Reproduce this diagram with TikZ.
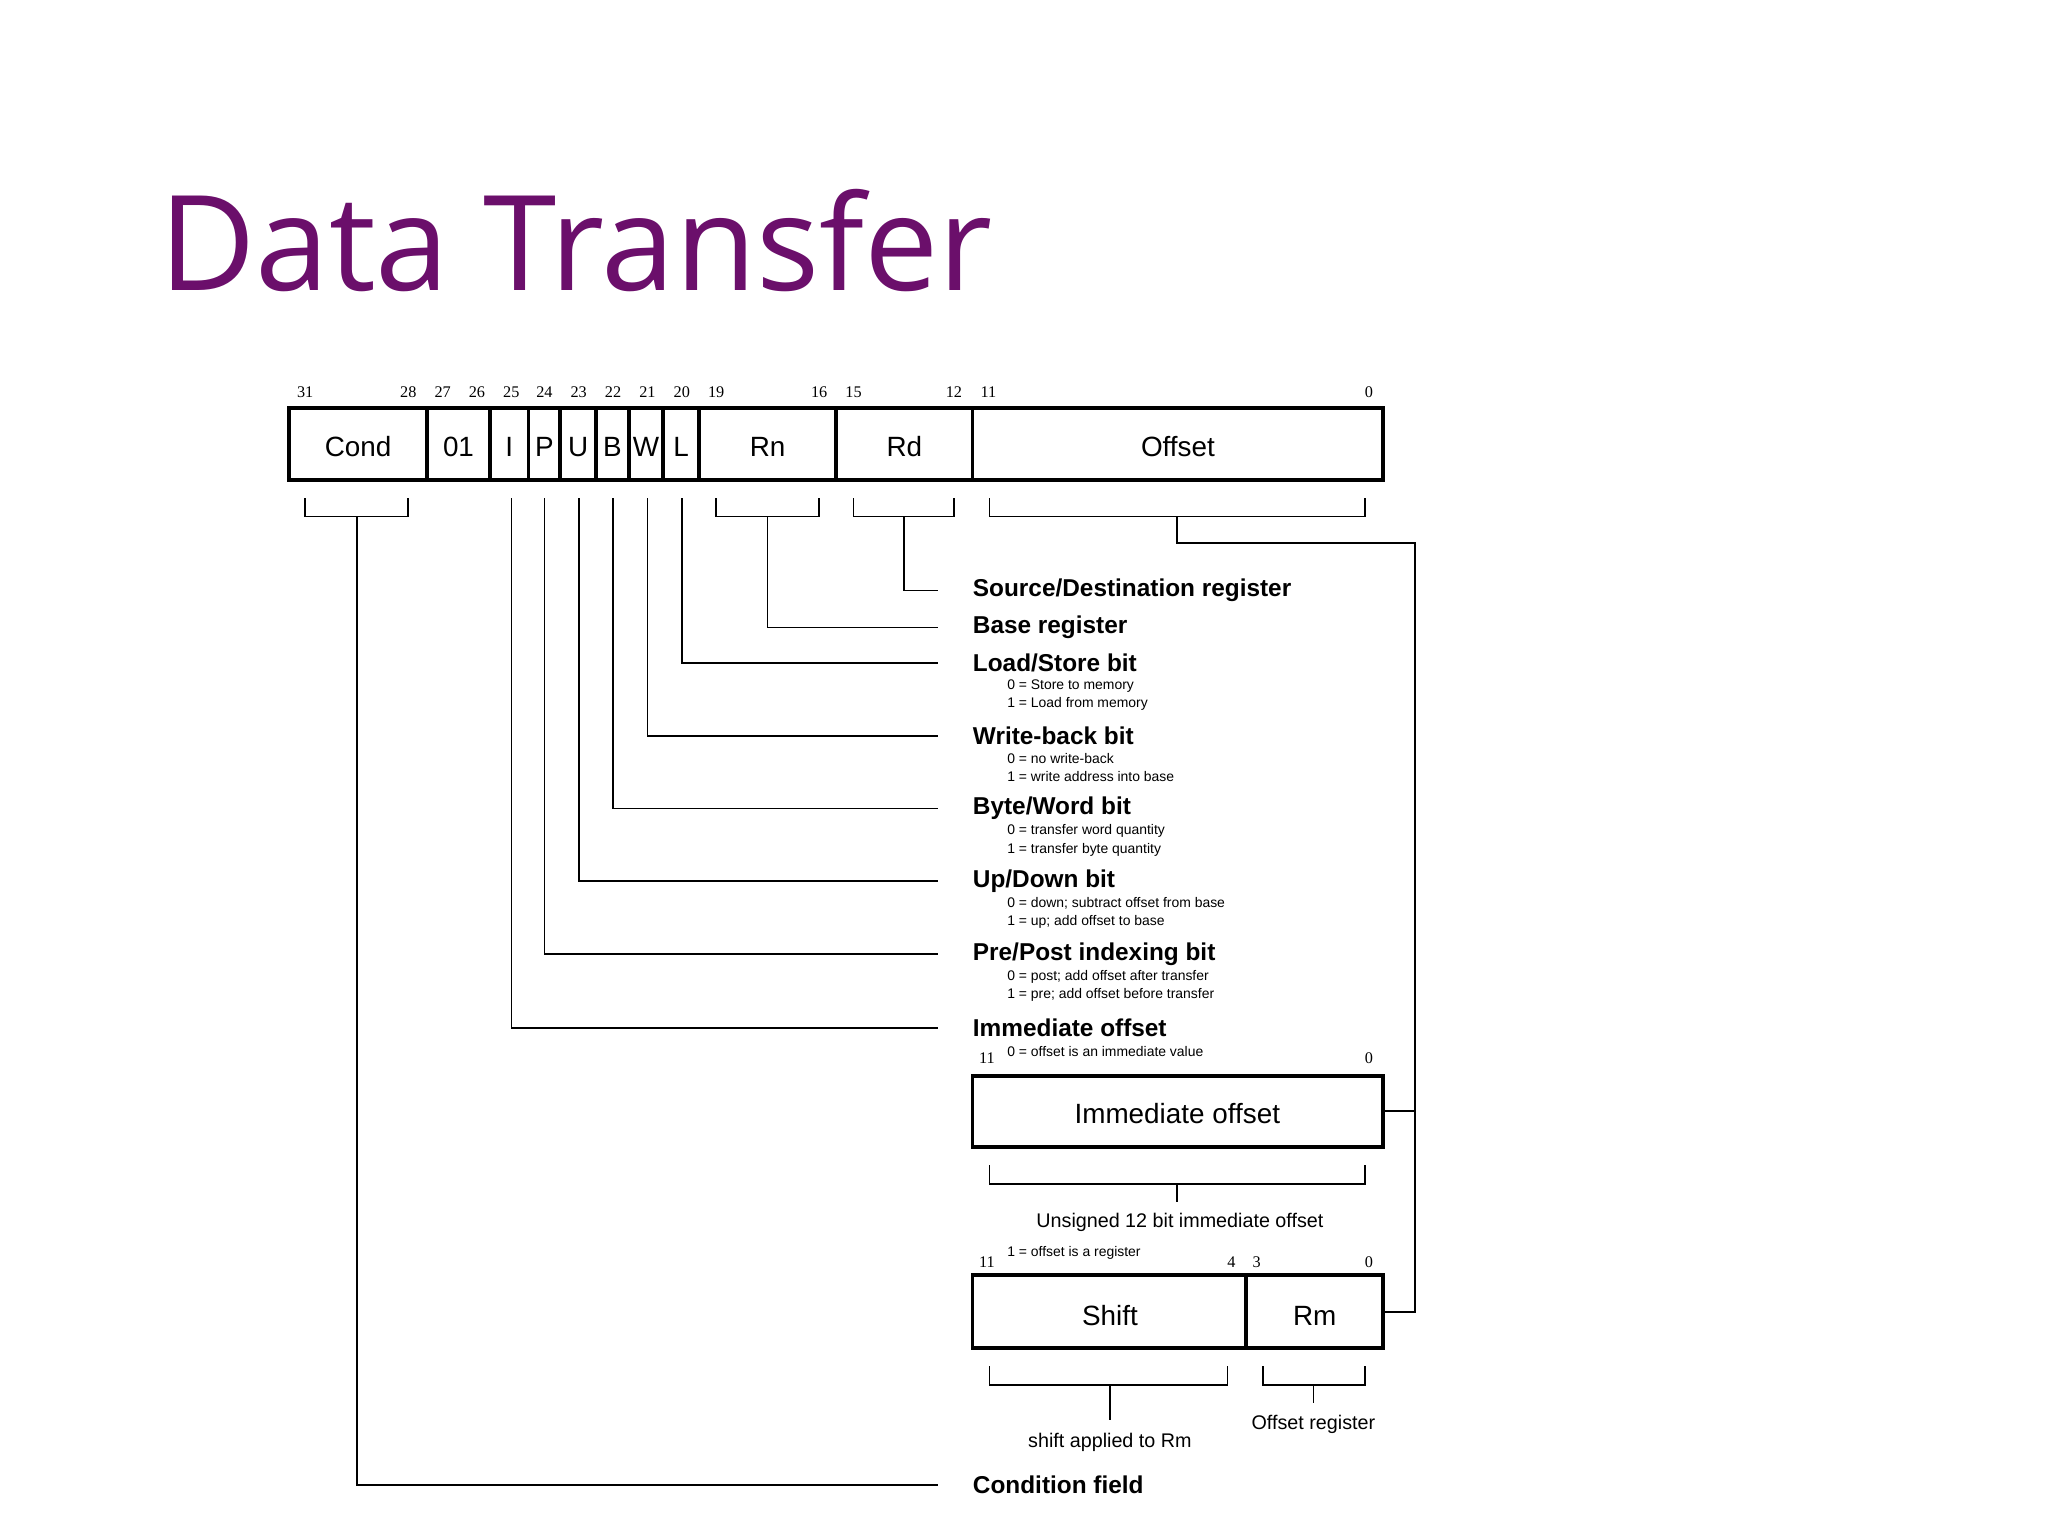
\documentclass[tikz,border=0pt]{standalone}
\usepackage{fontspec}
\setmainfont{Liberation Sans}
\newfontfamily\titlefont{Open Sans}
\newfontfamily\numfont{Liberation Serif}
\definecolor{ttl}{RGB}{107,15,107}
\begin{document}
\begin{tikzpicture}[x=0.02cm,y=-0.02cm,
  box/.style={draw,line width=1.7pt},
  thin/.style={line width=0.7pt},
  fld/.style={font=\fontsize{12}{14}\selectfont},
  bn/.style={font=\numfont\fontsize{7}{8}\selectfont,inner sep=0pt},
  lab/.style={anchor=west,inner sep=0pt,font=\bfseries\fontsize{10.5}{12}\selectfont},
  sub/.style={anchor=west,inner sep=0pt,font=\fontsize{6}{7}\selectfont},
  capt/.style={inner sep=0pt,font=\fontsize{8.5}{10}\selectfont}]
\useasboundingbox (0,0) rectangle (1550,1162);
\node[anchor=base west,inner sep=0pt,text=ttl,font=\titlefont\fontsize{57}{60}\selectfont] (title) at (120,220) {Data Transfer};
% main instruction word
\draw[box] (219,309) rectangle (1047,363);
\foreach \x in {323,371,400,424,451,476,502,529,633,736} \draw[box] (\x,309) -- (\x,363);
\foreach \t/\a/\b in {Cond/219/323,01/323/371,I/371/400,P/400/424,U/424/451,B/451/476,W/476/502,L/502/529,Rn/529/633,Rd/633/736,Offset/736/1047}
  \node[fld] (f\t) at ({(\a+\b)/2},338) {\t};
\foreach \n/\x in {31/231,28/309,27/335,26/361,25/387,24/412,23/438,22/464,21/490,20/516,19/542,16/620,15/646,12/722,11/748,0/1036}
  \node[bn] (b\n) at (\x,297) {\n};
% labels
\node[lab] (sd) at (736,447) {Source/Destination register};
\node[lab] (br) at (736,475) {Base register};
\node[lab] (ls) at (736,502) {Load/Store bit};
\node[lab] (wb) at (736,557) {Write-back bit};
\node[lab] (bw) at (736,612) {Byte/Word bit};
\node[lab] (ud) at (736,667) {Up/Down bit};
\node[lab] (pp) at (736,722) {Pre/Post indexing bit};
\node[lab] (io) at (736,778) {Immediate offset};
\node[lab] (cf) at (736,1124) {Condition field};
\node[sub] (ls0) at (762,519) {0 = Store to memory};
\node[sub] (ls1) at (762,533) {1 = Load from memory};
\node[sub] (wb0) at (762,574) {0 = no write-back};
\node[sub] (wb1) at (762,588) {1 = write address into base};
\node[sub] (bw0) at (762,629) {0 = transfer word quantity};
\node[sub] (bw1) at (762,643) {1 = transfer byte quantity};
\node[sub] (ud0) at (762,684) {0 = down; subtract offset from base};
\node[sub] (ud1) at (762,698) {1 = up; add offset to base};
\node[sub] (pp0) at (762,739) {0 = post; add offset after transfer};
\node[sub] (pp1) at (762,753) {1 = pre; add offset before transfer};
\node[sub] (io0) at (762,796) {0 = offset is an immediate value};
% brackets and leaders
\coordinate (e) at (710,0);
\draw[thin] (231,377) |- (309,391) -- (309,377);
\draw[thin] (270,391) |- (cf.west -| e);
\draw[thin] (542,377) |- (620,391) -- (620,377);
\draw[thin] (581,391) |- (br.west -| e);
\draw[thin] (646,377) |- (722,391) -- (722,377);
\draw[thin] (684,391) |- (sd.west -| e);
\draw[thin] (749,377) |- (1033,391) -- (1033,377);
\draw[thin] (387,377) |- (io.west -| e);
\draw[thin] (412,377) |- (pp.west -| e);
\draw[thin] (438,377) |- (ud.west -| e);
\draw[thin] (464,377) |- (bw.west -| e);
\draw[thin] (490,377) |- (wb.west -| e);
\draw[thin] (516,377) |- (ls.west -| e);
% immediate offset box
\node[bn] (i11) at (747,801) {11};
\node[bn] (i0) at (1036,801) {0};
\draw[box] (736,814) rectangle (1047,868);
\node[fld] (imm) at (891,843) {Immediate offset};
\draw[thin] (749,882) |- (1033,896) -- (1033,882);
\draw[thin] (891,896) -- (891,910);
\node[capt] (uns) at (893,925) {Unsigned 12 bit immediate offset};
% register offset
\node[sub] (rg1) at (762,948) {1 = offset is a register};
\node[bn] (r11) at (747,955) {11};
\node[bn] (r4) at (932,955) {4};
\node[bn] (r3) at (951,955) {3};
\node[bn] (r0) at (1036,955) {0};
\draw[box] (736,965) rectangle (1047,1020);
\draw[box] (943,965) -- (943,1020);
\node[fld] (sh) at (840,996) {Shift};
\node[fld] (rm) at (995,996) {Rm};
\draw[thin] (749,1034) |- (929,1048) -- (929,1034);
\draw[thin] (840,1048) -- (840,1075);
\draw[thin] (956,1034) |- (1033,1048) -- (1033,1034);
\draw[thin] (994,1048) -- (994,1062);
\node[capt] (sar) at (840,1092) {shift applied to Rm};
\node[capt] (oreg) at (994,1078) {Offset register};
% offset connector
\draw[thin] (891,391) |- (1071,411) -- (1071,993) -- (1047,993);
\draw[thin] (1047,841) -- (1071,841);
\end{tikzpicture}
\end{document}
